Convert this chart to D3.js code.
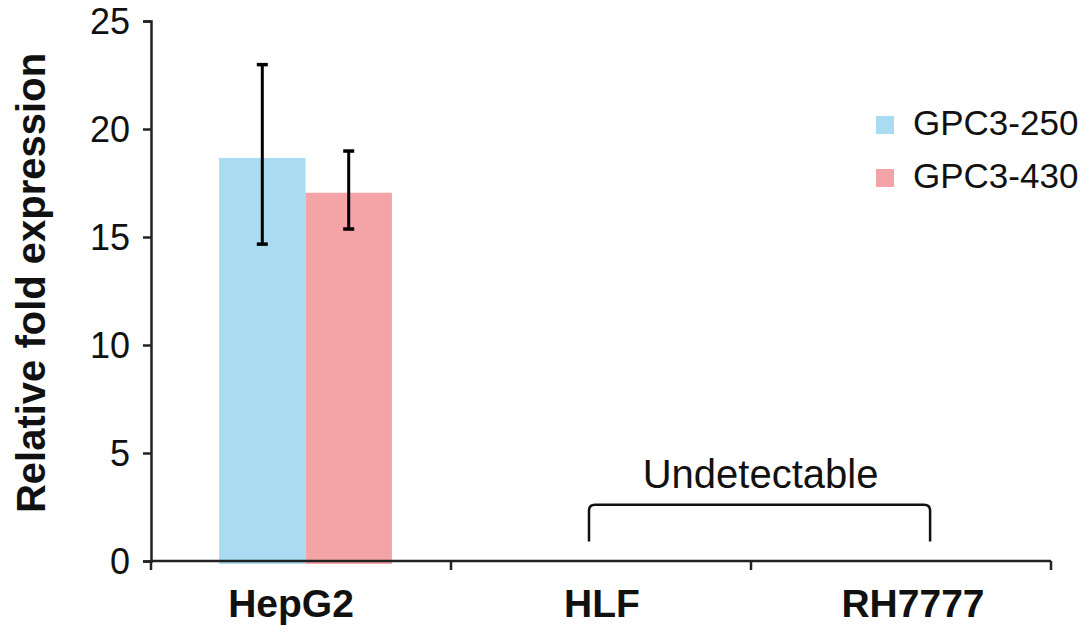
<!DOCTYPE html>
<html>
<head>
<meta charset="utf-8">
<script src="https://cdn.jsdelivr.net/npm/d3@7"></script>
<style>
  body { margin: 0; background: #fff; }
  svg text { font-family: "Liberation Sans", Arial, sans-serif; fill: #111; }
</style>
</head>
<body>
<div id="chart"></div>
<script>
// data
const cellLines = ['HepG2', 'HLF', 'RH7777'];
const seriesNames = ['GPC3-250', 'GPC3-430'];
const seriesColors = ['#a9dcf1', '#f4a4a7'];
const hepg2Values = [18.66, 17.05];
const hepg2Low = [14.67, 15.37];
const hepg2High = [22.98, 18.98];
const yTicks = [0, 5, 10, 15, 20, 25];
const noteText = 'Undetectable';

const w = 1091;
const h = 633;
const margin = { top: 21, right: 40, bottom: 72, left: 151 };

const svg = d3.select('#chart')
  .append('svg')
  .attr('width', w)
  .attr('height', h)

const xScale = d3.scaleBand()
  .domain(cellLines)
  .range([margin.left, 1051])

const yScale = d3.scaleLinear()
  .domain([0, 25])
  .range([h - margin.bottom, margin.top])

const bw = xScale.bandwidth();
const x1 = d3.scaleBand()
  .domain(seriesNames)
  .range([bw * 0.227, bw * 0.803])

const barData = seriesNames.map((s, i) => ({
  cell: 'HepG2', series: s, value: hepg2Values[i],
  low: hepg2Low[i], high: hepg2High[i], color: seriesColors[i]
}))

// bars
svg.selectAll('rect.bar')
  .data(barData)
  .enter()
  .append('rect')
  .attr('class', 'bar')
  .attr('x', d => xScale(d.cell) + x1(d.series))
  .attr('y', d => yScale(d.value))
  .attr('width', x1.bandwidth())
  .attr('height', d => yScale(0) - yScale(d.value) + 3)
  .attr('fill', d => d.color)

// error bars
const err = svg.append('g')
  .attr('stroke', '#000')
  .attr('stroke-width', 3)
barData.forEach(d => {
  const cx = xScale(d.cell) + x1(d.series) + x1.bandwidth() / 2;
  err.append('line')
    .attr('x1', cx).attr('x2', cx)
    .attr('y1', yScale(d.low)).attr('y2', yScale(d.high))
  ;[d.low, d.high].forEach(v => {
    err.append('line')
      .attr('x1', cx - 5.5).attr('x2', cx + 5.5)
      .attr('y1', yScale(v)).attr('y2', yScale(v))
      .attr('stroke-width', 3.5)
  })
})

// y axis
const yAxis = d3.axisLeft(yScale).tickValues(yTicks).tickSize(8).tickPadding(13)
const gy = svg.append('g')
  .attr('transform', 'translate(' + margin.left + ',0)')
  .call(yAxis)
gy.select('.domain').attr('stroke', '#222').attr('stroke-width', 2.5)
gy.selectAll('.tick line').attr('stroke', '#222').attr('stroke-width', 2.5)
gy.selectAll('.tick text')
  .attr('font-size', 36)
  .attr('dy', '0.36em')
  .style('font-family', '"Liberation Sans", Arial, sans-serif')
  .attr('fill', '#111')

// x axis: line with ticks at band boundaries, labels near centres
const gx = svg.append('g')
const bounds = cellLines.map(c => xScale(c)).concat([xScale.range()[1]])
const labelShift = { HepG2: -10, HLF: 1, RH7777: 12 };
gx.append('line')
  .attr('x1', margin.left).attr('x2', xScale.range()[1])
  .attr('y1', yScale(0)).attr('y2', yScale(0))
  .attr('stroke', '#222').attr('stroke-width', 2.5)
gx.selectAll('line.tick')
  .data(bounds)
  .enter()
  .append('line')
  .attr('class', 'tick')
  .attr('x1', d => d).attr('x2', d => d)
  .attr('y1', yScale(0)).attr('y2', yScale(0) + 9)
  .attr('stroke', '#222').attr('stroke-width', 2.5)
gx.selectAll('text')
  .data(cellLines)
  .enter()
  .append('text')
  .attr('x', d => xScale(d) + bw / 2 + labelShift[d])
  .attr('y', yScale(0) + 56)
  .attr('text-anchor', 'middle')
  .attr('font-size', 39)
  .attr('font-weight', 'bold')
  .text(d => d)

// y title
svg.append('text')
  .attr('transform', 'translate(45,' + ((yScale(0) + yScale(25)) / 2 - 8) + ') rotate(-90)')
  .attr('text-anchor', 'middle')
  .attr('font-size', 40)
  .attr('font-weight', 'bold')
  .text('Relative fold expression')

// "Undetectable" bracket over HLF and RH7777
const bx0 = xScale('HLF') + bw * 0.46;
const bx1 = xScale('RH7777') + bw * 0.597;
const byLow = yScale(0.9);
const byTop = yScale(2.6);
const r = 6;
svg.append('path')
  .attr('d', 'M' + bx0 + ',' + byLow + ' L' + bx0 + ',' + (byTop + r)
    + ' Q' + bx0 + ',' + byTop + ' ' + (bx0 + r) + ',' + byTop
    + ' L' + (bx1 - r) + ',' + byTop
    + ' Q' + bx1 + ',' + byTop + ' ' + bx1 + ',' + (byTop + r)
    + ' L' + bx1 + ',' + byLow)
  .attr('fill', 'none')
  .attr('stroke', '#111')
  .attr('stroke-width', 2.5)
svg.append('text')
  .attr('x', (bx0 + bx1) / 2 + 1)
  .attr('y', yScale(3.38))
  .attr('text-anchor', 'middle')
  .attr('font-size', 40)
  .text(noteText)

// legend
const legend = svg.append('g')
  .attr('transform', 'translate(876,116)')
seriesNames.forEach((s, i) => {
  const row = legend.append('g').attr('transform', 'translate(0,' + (i * 53) + ')')
  row.append('rect')
    .attr('width', 18).attr('height', 18)
    .attr('fill', seriesColors[i])
  row.append('text')
    .attr('x', 37).attr('y', 19)
    .attr('font-size', 35)
    .text(s)
})
</script>
</body>
</html>
